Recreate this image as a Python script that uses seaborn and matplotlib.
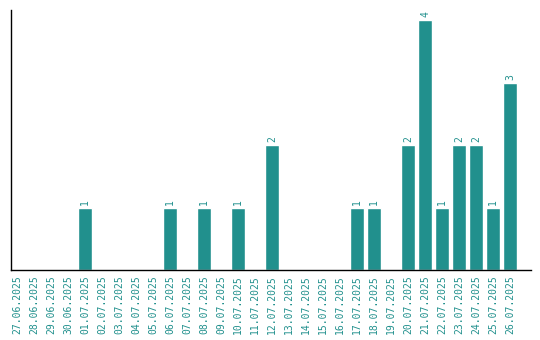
import pandas as pd
import seaborn as sns
import matplotlib.pyplot as plt

dates = pd.date_range("2025-06-27", "2025-07-26").strftime("%d.%m.%Y").tolist()
counts_by_day = {
    "01.07.2025": 1, "06.07.2025": 1, "08.07.2025": 1, "10.07.2025": 1,
    "12.07.2025": 2, "17.07.2025": 1, "18.07.2025": 1, "20.07.2025": 2,
    "21.07.2025": 4, "22.07.2025": 1, "23.07.2025": 2, "24.07.2025": 2,
    "25.07.2025": 1, "26.07.2025": 3,
}
counts = [counts_by_day.get(d, 0) for d in dates]

color = "#21908d"
sns.set_style("white")
plt.rcParams["font.family"] = ["DejaVu Sans Mono"]

df = pd.DataFrame({"date": dates, "count": counts})

fig = plt.figure(figsize=(5.4, 3.4), dpi=100)
ax = fig.add_axes([10.5 / 540, 70 / 340, 520 / 540, 260 / 340])
sns.barplot(data=df, x="date", y="count", color=color, width=0.82, ax=ax, saturation=1)

for patch, c in zip(ax.patches, counts):
    if c > 0:
        ax.annotate(str(c), (patch.get_x() + patch.get_width() / 2, patch.get_height()),
                    xytext=(0, 2), textcoords="offset points", ha="center", va="bottom",
                    rotation=90, fontsize=7, color=color)

ax.set_ylim(0, 4.16)
ax.set_xlim(-0.38, 30.2)
ax.set_yticks([])
ax.set_xlabel("")
ax.set_ylabel("")
ax.tick_params(axis="x", labelrotation=90, labelsize=7, labelcolor=color, length=0, pad=4)
for side in ["top", "right"]:
    ax.spines[side].set_visible(False)
for side in ["left", "bottom"]:
    ax.spines[side].set_color("black")
    ax.spines[side].set_linewidth(1)

fig.savefig("out.png", dpi=100)
